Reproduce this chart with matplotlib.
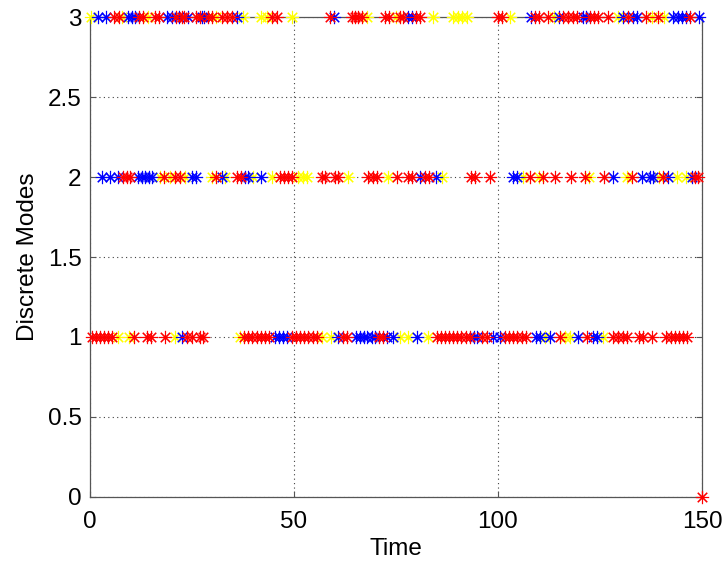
import matplotlib
matplotlib.use('Agg')
import matplotlib.pyplot as plt

# times of each marker, grouped by mode (row) and colour
mode3_red = [6, 7, 12, 13, 16, 17, 21, 22.6, 23.1, 26.1, 27, 29, 29.8, 32.3, 33.5, 34.7,
             44.5, 45.8, 58.8, 64.1, 65, 65.8, 66.6, 72.3, 73.4, 76, 76.8, 79.9, 81,
             100.1, 100.9, 109.1, 110.1, 112.3, 116, 117.2, 118.3, 119.4, 122.5, 123.5,
             124.6, 127, 131.9, 136.3, 139.3, 147]
mode3_blue = [1.9, 3.8, 9.2, 10.2, 11, 18.8, 20, 21.8, 24.1, 27.5, 28, 36, 59.8, 78, 78.8,
              108, 115, 120.9, 121.6, 130.6, 133, 134, 143, 144, 145, 146, 149.3]
mode3_yellow = [0.2, 7.9, 14.3, 31, 37.6, 42, 43.3, 49.6, 68, 75, 84.1, 89, 90.3, 91.3,
                92.3, 103, 113.7, 129.5, 137.7, 140.7]

mode2_red = [8.2, 9, 9.8, 18.2, 20.8, 22.1, 31, 36, 37, 46.6, 47.6, 48.6, 49.4, 56.8, 57.6,
             60, 60.9, 68.2, 69.3, 70.3, 75.2, 78, 78.8, 82.1, 83.2, 93.5, 94.4, 98,
             107.8, 111.1, 114, 118, 121.3, 126, 132.8, 140.5, 148.3, 149.1]
mode2_blue = [2.9, 4.9, 6.9, 11.8, 12.7, 13.5, 14.5, 15.1, 24.9, 25.9, 32.3, 38, 38.8, 42,
              81, 84.8, 103.8, 104.6, 128.1, 135.2, 137.3, 138.1, 141.7, 147.5]
mode2_yellow = [17.2, 19.6, 23.3, 29.8, 33.1, 40, 44.7, 51.1, 52.3, 53.1, 63.3, 73.1, 86.2,
                106.2, 110.1, 122.4, 131.5, 139.5, 143.8, 146.2]

mode1_red = [0.4, 1.4, 2.5, 3.4, 4.5, 5.3, 10.9, 13.9, 15, 18.4, 23.7, 24.9, 27, 27.8,
             37.8, 38.8, 39.8, 40.9, 41.9, 42.9, 43.9, 49.4, 50.5, 51.5, 52.5, 53.5, 54.6,
             55.6, 62.1, 63.1, 70.9, 71.7, 85, 86, 87, 88, 89, 90, 91, 92.2, 93.1, 96, 97.2,
             101.7, 102.8, 103.8, 104.7, 105.8, 106.9, 115.2, 121.9, 128.3, 129.5, 130.6,
             131.5, 134.6, 135.5, 137.7, 141.3, 142.3, 143.4, 144.4, 145.4, 146.4]
mode1_blue = [22.5, 45.3, 46.3, 47.4, 48.2, 60.9, 65.2, 66.2, 67.2, 68, 69, 69.9, 72.7,
              74.2, 80.1, 94.1, 94.8, 98.7, 100.5, 109.3, 110.3, 112.7, 119.7, 123.4, 124.2]
mode1_yellow = [6.8, 9.6, 20.8, 36.8, 56.8, 59, 76, 78, 82.9, 111.5, 116.4, 117.6, 125.8]

mode0_red = [150]

groups = [
    (3, mode3_yellow, '#FFFF00'), (3, mode3_blue, '#0000FF'), (3, mode3_red, '#FF0000'),
    (2, mode2_yellow, '#FFFF00'), (2, mode2_blue, '#0000FF'), (2, mode2_red, '#FF0000'),
    (1, mode1_yellow, '#FFFF00'), (1, mode1_blue, '#0000FF'), (1, mode1_red, '#FF0000'),
    (0, mode0_red, '#FF0000'),
]

plt.rcParams['font.family'] = ['Liberation Sans', 'DejaVu Sans']

fig = plt.figure(figsize=(7.27, 5.62), dpi=100)
ax = fig.add_axes([0.1238, 0.1157, 0.8418, 0.854])

for mode, times, color in groups:
    ax.plot(times, [mode] * len(times), linestyle='none', marker=(8, 2, 0),
            color=color, markersize=9.5, markeredgewidth=0.8, clip_on=False, zorder=3)

ax.set_xlim(0, 150)
ax.set_ylim(0, 3)
ax.set_xticks([0, 50, 100, 150])
ax.set_yticks([0, 0.5, 1, 1.5, 2, 2.5, 3])
ax.set_yticklabels(['0', '0.5', '1', '1.5', '2', '2.5', '3'])
ax.grid(True, linestyle=(0, (1, 3)), color='#404040', linewidth=0.8)
ax.tick_params(direction='in', labelsize=17.5, top=True, right=True, length=4,
               color='#555555')
ax.tick_params(axis='x', pad=10)
ax.tick_params(axis='y', pad=6)
for s in ax.spines.values():
    s.set_color('#555555')
    s.set_linewidth(0.9)

ax.set_xlabel('Time', fontsize=17.5, labelpad=4)
ax.set_ylabel('Discrete Modes', fontsize=17.5, labelpad=6)

fig.savefig('out.png', dpi=100)
